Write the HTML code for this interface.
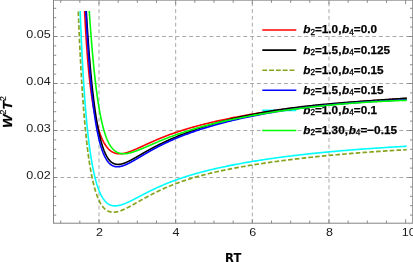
<!DOCTYPE html>
<html><head><meta charset="utf-8"><title>Plot</title>
<style>
html,body{margin:0;padding:0;background:#fff;}
svg{display:block;}
text{font-family:"Liberation Sans",sans-serif;}
.tk{font-size:11px;fill:#1a1a1a;}
.lg{font-size:11.75px;letter-spacing:0px;font-weight:bold;fill:#000;stroke:#000;stroke-width:0.25px;}
.bi{font-style:italic;}
.sub{font-size:8.2px;font-weight:normal;stroke:#000;stroke-width:0.32px;}
.xl{font-family:"DejaVu Sans","Liberation Sans",sans-serif;font-size:12.3px;font-weight:bold;fill:#000;}
.yl{font-size:13.2px;font-weight:bold;font-style:italic;fill:#000;stroke:#000;stroke-width:0.25px;}
.sup{font-size:8.2px;font-weight:normal;font-style:normal;stroke-width:0.1px;}
</style></head><body>
<svg width="413" height="262" viewBox="0 0 413 262">
<rect width="413" height="262" fill="#fff"/>
<g stroke="#999" stroke-width="0.85" stroke-dasharray="3.9,2.88" fill="none"><line x1="99.00" y1="223.20" x2="99.00" y2="0.15"/><line x1="175.66" y1="223.20" x2="175.66" y2="0.15"/><line x1="252.32" y1="223.20" x2="252.32" y2="0.15"/><line x1="328.98" y1="223.20" x2="328.98" y2="0.15"/><line x1="53.50" y1="177.50" x2="412.70" y2="177.50"/><line x1="53.50" y1="130.50" x2="412.70" y2="130.50"/><line x1="53.50" y1="83.50" x2="412.70" y2="83.50"/><line x1="53.50" y1="36.50" x2="412.70" y2="36.50"/></g>
<line x1="262.3" y1="30.00" x2="296.3" y2="30.00" stroke="#ff0000" stroke-width="1.6"/><text x="303.2" y="33.40" class="lg"><tspan class="bi">b</tspan><tspan class="sub" dy="1.2">2</tspan><tspan dy="-1.2">=1.0,</tspan><tspan class="bi" dx="0.7">b</tspan><tspan class="sub" dy="1.2">4</tspan><tspan dy="-1.2">=0.0</tspan></text><line x1="262.3" y1="50.10" x2="296.3" y2="50.10" stroke="#000000" stroke-width="1.6"/><text x="303.2" y="53.50" class="lg"><tspan class="bi">b</tspan><tspan class="sub" dy="1.2">2</tspan><tspan dy="-1.2">=1.5,</tspan><tspan class="bi" dx="0.7">b</tspan><tspan class="sub" dy="1.2">4</tspan><tspan dy="-1.2">=0.125</tspan></text><line x1="262.3" y1="70.20" x2="296.3" y2="70.20" stroke="#87a41d" stroke-width="1.6" stroke-dasharray="4.9,1.9"/><text x="303.2" y="73.60" class="lg"><tspan class="bi">b</tspan><tspan class="sub" dy="1.2">2</tspan><tspan dy="-1.2">=1.0,</tspan><tspan class="bi" dx="0.7">b</tspan><tspan class="sub" dy="1.2">4</tspan><tspan dy="-1.2">=0.15</tspan></text><line x1="262.3" y1="90.30" x2="296.3" y2="90.30" stroke="#0000ff" stroke-width="1.6"/><text x="303.2" y="93.70" class="lg"><tspan class="bi">b</tspan><tspan class="sub" dy="1.2">2</tspan><tspan dy="-1.2">=1.5,</tspan><tspan class="bi" dx="0.7">b</tspan><tspan class="sub" dy="1.2">4</tspan><tspan dy="-1.2">=0.15</tspan></text><line x1="262.3" y1="110.40" x2="296.3" y2="110.40" stroke="#00ffff" stroke-width="1.6"/><text x="303.2" y="113.80" class="lg"><tspan class="bi">b</tspan><tspan class="sub" dy="1.2">2</tspan><tspan dy="-1.2">=1.0,</tspan><tspan class="bi" dx="0.7">b</tspan><tspan class="sub" dy="1.2">4</tspan><tspan dy="-1.2">=0.1</tspan></text><line x1="262.3" y1="130.50" x2="296.3" y2="130.50" stroke="#00ff00" stroke-width="1.6"/><text x="303.2" y="133.90" class="lg"><tspan class="bi">b</tspan><tspan class="sub" dy="1.2">2</tspan><tspan dy="-1.2">=1.30,</tspan><tspan class="bi" dx="0.7">b</tspan><tspan class="sub" dy="1.2">4</tspan><tspan dy="-1.2">=−0.15</tspan></text>
<clipPath id="cp"><rect x="54" y="10.9" width="353.2" height="211"/></clipPath><g clip-path="url(#cp)">
<path d="M83.45,-15.89 L83.73,-8.83 L84.01,-2.14 L84.29,4.19 L84.58,10.19 L84.86,15.89 L85.14,21.30 L85.43,26.43 L85.71,31.32 L85.99,35.97 L86.27,40.40 L86.56,44.62 L86.84,48.64 L87.12,52.48 L87.40,56.15 L87.69,59.66 L87.97,63.02 L88.25,66.23 L88.53,69.31 L88.82,72.26 L89.10,75.09 L89.38,77.81 L89.66,80.42 L89.95,82.93 L90.23,85.34 L90.51,87.66 L90.80,89.90 L91.08,92.06 L91.36,94.14 L91.64,96.14 L91.93,98.08 L92.21,99.95 L92.49,101.75 L92.77,103.49 L93.06,105.18 L93.34,106.81 L93.62,108.39 L93.90,109.92 L94.19,111.40 L94.47,112.83 L94.75,114.22 L95.03,115.57 L95.32,116.87 L95.60,118.14 L95.88,119.36 L96.16,120.55 L96.45,121.71 L96.73,122.83 L97.01,123.92 L97.30,124.97 L97.58,126.00 L97.86,126.99 L98.14,127.96 L98.43,128.89 L98.71,129.80 L98.99,130.69 L99.27,131.55 L99.56,132.38 L99.84,133.19 L100.12,133.97 L100.40,134.74 L100.69,135.48 L100.97,136.20 L101.25,136.89 L101.53,137.57 L101.82,138.23 L102.10,138.86 L102.38,139.48 L102.67,140.08 L102.95,140.66 L103.23,141.23 L103.51,141.77 L103.80,142.30 L104.08,142.82 L104.36,143.31 L104.64,143.79 L104.93,144.26 L105.21,144.71 L105.49,145.15 L105.77,145.57 L106.06,145.97 L106.34,146.37 L106.62,146.75 L106.90,147.11 L107.19,147.47 L107.47,147.81 L107.75,148.14 L108.03,148.46 L108.32,148.76 L108.60,149.06 L108.88,149.34 L109.17,149.61 L109.45,149.87 L109.73,150.12 L110.01,150.36 L110.30,150.59 L110.58,150.81 L110.86,151.02 L111.14,151.22 L111.43,151.42 L111.71,151.60 L111.99,151.77 L112.27,151.94 L112.56,152.10 L112.84,152.25 L113.12,152.39 L113.40,152.52 L113.69,152.65 L113.97,152.76 L114.25,152.87 L114.54,152.98 L114.82,153.08 L115.10,153.17 L115.38,153.25 L115.67,153.33 L115.95,153.40 L116.23,153.46 L116.51,153.52 L116.80,153.57 L117.08,153.62 L117.36,153.66 L117.64,153.69 L117.93,153.72 L118.21,153.75 L118.49,153.77 L118.77,153.78 L119.06,153.79 L119.34,153.80 L119.62,153.80 L119.90,153.80 L120.19,153.79 L120.47,153.78 L120.75,153.76 L121.04,153.74 L121.32,153.72 L121.60,153.69 L121.88,153.66 L122.17,153.62 L122.45,153.59 L122.73,153.54 L123.01,153.50 L123.30,153.45 L123.58,153.40 L123.86,153.34 L124.14,153.29 L124.43,153.23 L124.71,153.16 L124.99,153.10 L125.27,153.03 L125.56,152.96 L125.84,152.88 L126.12,152.81 L126.40,152.73 L126.69,152.65 L126.97,152.57 L127.25,152.48 L127.54,152.39 L127.82,152.31 L128.10,152.21 L128.38,152.12 L128.67,152.03 L128.95,151.93 L129.23,151.83 L129.51,151.73 L129.80,151.63 L130.08,151.53 L130.36,151.43 L130.64,151.32 L130.93,151.22 L131.21,151.11 L131.49,151.00 L131.77,150.89 L132.06,150.78 L132.34,150.66 L132.62,150.55 L132.91,150.44 L133.19,150.32 L133.47,150.20 L133.75,150.09 L134.04,149.97 L134.32,149.85 L134.60,149.73 L134.88,149.61 L135.17,149.49 L135.45,149.36 L135.73,149.24 L136.01,149.12 L136.30,148.99 L136.58,148.87 L136.86,148.74 L137.14,148.62 L137.43,148.49 L137.71,148.36 L137.99,148.24 L138.27,148.11 L138.56,147.98 L138.84,147.85 L139.12,147.73 L139.41,147.60 L139.69,147.47 L139.97,147.34 L140.25,147.21 L140.54,147.08 L140.82,146.95 L141.10,146.82 L141.38,146.69 L141.67,146.56 L141.95,146.43 L142.23,146.30 L142.51,146.17 L142.80,146.04 L143.08,145.91 L143.36,145.78 L143.64,145.65 L143.93,145.52 L144.21,145.39 L144.49,145.26 L144.78,145.13 L145.06,144.99 L145.34,144.86 L145.62,144.73 L145.91,144.60 L146.19,144.47 L146.47,144.34 L146.75,144.21 L147.04,144.09 L147.32,143.96 L147.60,143.83 L147.88,143.70 L148.17,143.57 L148.45,143.44 L148.73,143.31 L149.01,143.18 L149.30,143.05 L149.58,142.93 L149.86,142.80 L150.14,142.67 L150.43,142.54 L150.71,142.42 L150.99,142.29 L151.28,142.16 L151.56,142.04 L151.84,141.91 L152.12,141.79 L152.41,141.66 L152.69,141.54 L152.97,141.41 L153.25,141.29 L153.54,141.16 L153.82,141.04 L154.10,140.92 L154.38,140.79 L154.67,140.67 L154.95,140.55 L155.23,140.42 L155.51,140.30 L155.80,140.18 L156.08,140.06 L156.36,139.94 L156.64,139.82 L157.90,139.29 L159.16,138.76 L160.41,138.24 L161.67,137.73 L162.93,137.23 L164.18,136.73 L165.44,136.24 L166.70,135.76 L167.95,135.29 L169.21,134.82 L170.47,134.36 L171.72,133.91 L172.98,133.46 L174.24,133.02 L175.49,132.58 L176.75,132.16 L178.01,131.73 L179.26,131.32 L180.52,130.91 L181.78,130.51 L183.03,130.11 L184.29,129.72 L185.55,129.33 L186.80,128.95 L188.06,128.57 L189.32,128.20 L190.57,127.83 L191.83,127.47 L193.09,127.12 L194.34,126.76 L195.60,126.42 L196.86,126.07 L198.11,125.73 L199.37,125.40 L200.63,125.07 L201.88,124.74 L203.14,124.42 L204.40,124.10 L205.65,123.78 L206.91,123.47 L208.17,123.16 L209.42,122.86 L210.68,122.56 L211.94,122.26 L213.19,121.97 L214.45,121.67 L215.71,121.39 L216.96,121.10 L218.22,120.82 L219.48,120.54 L220.73,120.26 L221.99,119.99 L223.24,119.72 L224.50,119.45 L225.76,119.19 L227.01,118.92 L228.27,118.66 L229.53,118.41 L230.78,118.15 L232.04,117.90 L233.30,117.65 L234.55,117.41 L235.81,117.16 L237.07,116.92 L238.32,116.68 L239.58,116.44 L240.84,116.21 L242.09,115.97 L243.35,115.74 L244.61,115.52 L245.86,115.29 L247.12,115.07 L248.38,114.85 L249.63,114.63 L250.89,114.41 L252.15,114.19 L253.40,113.98 L254.66,113.77 L255.92,113.56 L257.17,113.35 L258.43,113.15 L259.69,112.95 L260.94,112.75 L262.20,112.55 L263.46,112.35 L264.71,112.15 L265.97,111.96 L267.23,111.77 L268.48,111.58 L269.74,111.39 L271.00,111.21 L272.25,111.02 L273.51,110.84 L274.77,110.66 L276.02,110.48 L277.28,110.30 L278.54,110.13 L279.79,109.95 L281.05,109.78 L282.31,109.61 L283.56,109.44 L284.82,109.27 L286.08,109.11 L287.33,108.94 L288.59,108.78 L289.84,108.62 L291.10,108.46 L292.36,108.30 L293.61,108.15 L294.87,107.99 L296.13,107.84 L297.38,107.69 L298.64,107.54 L299.90,107.39 L301.15,107.24 L302.41,107.09 L303.67,106.95 L304.92,106.81 L306.18,106.67 L307.44,106.52 L308.69,106.39 L309.95,106.25 L311.21,106.11 L312.46,105.98 L313.72,105.84 L314.98,105.71 L316.23,105.58 L317.49,105.45 L318.75,105.32 L320.00,105.19 L321.26,105.06 L322.52,104.94 L323.77,104.81 L325.03,104.69 L326.29,104.57 L327.54,104.45 L328.80,104.33 L330.06,104.21 L331.31,104.09 L332.57,103.98 L333.83,103.86 L335.08,103.75 L336.34,103.63 L337.60,103.52 L338.85,103.41 L340.11,103.30 L341.37,103.19 L342.62,103.08 L343.88,102.98 L345.14,102.87 L346.39,102.76 L347.65,102.66 L348.91,102.56 L350.16,102.45 L351.42,102.35 L352.68,102.25 L353.93,102.15 L355.19,102.05 L356.44,101.95 L357.70,101.86 L358.96,101.76 L360.21,101.66 L361.47,101.57 L362.73,101.48 L363.98,101.38 L365.24,101.29 L366.50,101.20 L367.75,101.11 L369.01,101.02 L370.27,100.93 L371.52,100.84 L372.78,100.75 L374.04,100.66 L375.29,100.57 L376.55,100.49 L377.81,100.40 L379.06,100.32 L380.32,100.23 L381.58,100.15 L382.83,100.06 L384.09,99.98 L385.35,99.90 L386.60,99.82 L387.86,99.74 L389.12,99.66 L390.37,99.58 L391.63,99.50 L392.89,99.42 L394.14,99.34 L395.40,99.26 L396.66,99.19 L397.91,99.11 L399.17,99.03 L400.43,98.96 L401.68,98.88 L402.94,98.81 L404.20,98.73 L405.45,98.66 L406.71,98.59" fill="none" stroke="#ff0000" stroke-width="1.60" stroke-linejoin="round"/>
<path d="M85.15,-9.41 L85.42,-4.16 L85.70,0.93 L85.98,5.87 L86.25,10.66 L86.53,15.32 L86.80,19.84 L87.08,24.23 L87.36,28.49 L87.63,32.64 L87.91,36.66 L88.18,40.58 L88.46,44.39 L88.74,48.09 L89.01,51.69 L89.29,55.19 L89.56,58.60 L89.84,61.91 L90.12,65.14 L90.39,68.28 L90.67,71.33 L90.94,74.30 L91.22,77.19 L91.50,80.00 L91.77,82.73 L92.05,85.40 L92.32,87.99 L92.60,90.51 L92.88,92.96 L93.15,95.34 L93.43,97.66 L93.70,99.92 L93.98,102.11 L94.26,104.25 L94.53,106.33 L94.81,108.34 L95.09,110.31 L95.36,112.22 L95.64,114.07 L95.91,115.87 L96.19,117.63 L96.47,119.33 L96.74,120.98 L97.02,122.59 L97.29,124.15 L97.57,125.67 L97.85,127.14 L98.12,128.57 L98.40,129.96 L98.67,131.30 L98.95,132.61 L99.23,133.88 L99.50,135.11 L99.78,136.30 L100.05,137.45 L100.33,138.57 L100.61,139.66 L100.88,140.71 L101.16,141.73 L101.43,142.71 L101.71,143.67 L101.99,144.59 L102.26,145.48 L102.54,146.35 L102.81,147.18 L103.09,147.99 L103.37,148.77 L103.64,149.52 L103.92,150.25 L104.19,150.95 L104.47,151.63 L104.75,152.28 L105.02,152.91 L105.30,153.52 L105.58,154.10 L105.85,154.66 L106.13,155.20 L106.40,155.72 L106.68,156.23 L106.96,156.71 L107.23,157.17 L107.51,157.61 L107.78,158.03 L108.06,158.44 L108.34,158.83 L108.61,159.20 L108.89,159.56 L109.16,159.90 L109.44,160.22 L109.72,160.53 L109.99,160.82 L110.27,161.10 L110.54,161.37 L110.82,161.62 L111.10,161.86 L111.37,162.09 L111.65,162.30 L111.92,162.50 L112.20,162.69 L112.48,162.87 L112.75,163.04 L113.03,163.19 L113.30,163.34 L113.58,163.47 L113.86,163.59 L114.13,163.71 L114.41,163.81 L114.68,163.91 L114.96,164.00 L115.24,164.08 L115.51,164.15 L115.79,164.21 L116.07,164.26 L116.34,164.31 L116.62,164.35 L116.89,164.38 L117.17,164.40 L117.45,164.42 L117.72,164.43 L118.00,164.43 L118.27,164.43 L118.55,164.42 L118.83,164.41 L119.10,164.39 L119.38,164.36 L119.65,164.33 L119.93,164.30 L120.21,164.25 L120.48,164.21 L120.76,164.16 L121.03,164.10 L121.31,164.04 L121.59,163.98 L121.86,163.91 L122.14,163.84 L122.41,163.76 L122.69,163.68 L122.97,163.60 L123.24,163.52 L123.52,163.43 L123.79,163.33 L124.07,163.24 L124.35,163.14 L124.62,163.03 L124.90,162.93 L125.17,162.82 L125.45,162.71 L125.73,162.60 L126.00,162.48 L126.28,162.37 L126.56,162.25 L126.83,162.13 L127.11,162.00 L127.38,161.88 L127.66,161.75 L127.94,161.62 L128.21,161.49 L128.49,161.35 L128.76,161.22 L129.04,161.08 L129.32,160.95 L129.59,160.81 L129.87,160.67 L130.14,160.52 L130.42,160.38 L130.70,160.24 L130.97,160.09 L131.25,159.95 L131.52,159.80 L131.80,159.65 L132.08,159.50 L132.35,159.35 L132.63,159.20 L132.90,159.05 L133.18,158.90 L133.46,158.74 L133.73,158.59 L134.01,158.44 L134.28,158.28 L134.56,158.13 L134.84,157.97 L135.11,157.81 L135.39,157.66 L135.66,157.50 L135.94,157.34 L136.22,157.19 L136.49,157.03 L136.77,156.87 L137.05,156.71 L137.32,156.55 L137.60,156.39 L137.87,156.23 L138.15,156.08 L138.43,155.92 L138.70,155.76 L138.98,155.60 L139.25,155.44 L139.53,155.28 L139.81,155.12 L140.08,154.96 L140.36,154.80 L140.63,154.64 L140.91,154.48 L141.19,154.32 L141.46,154.16 L141.74,154.00 L142.01,153.85 L142.29,153.69 L142.57,153.53 L142.84,153.37 L143.12,153.21 L143.39,153.05 L143.67,152.90 L143.95,152.74 L144.22,152.58 L144.50,152.42 L144.77,152.27 L145.05,152.11 L145.33,151.95 L145.60,151.80 L145.88,151.64 L146.15,151.49 L146.43,151.33 L146.71,151.18 L146.98,151.02 L147.26,150.87 L147.54,150.71 L147.81,150.56 L148.09,150.41 L148.36,150.25 L148.64,150.10 L148.92,149.95 L149.19,149.80 L149.47,149.65 L149.74,149.50 L150.02,149.34 L150.30,149.19 L150.57,149.04 L150.85,148.90 L151.12,148.75 L151.40,148.60 L151.68,148.45 L151.95,148.30 L152.23,148.15 L152.50,148.01 L152.78,147.86 L153.06,147.71 L153.33,147.57 L153.61,147.42 L153.88,147.28 L154.16,147.13 L154.44,146.99 L154.71,146.84 L154.99,146.70 L155.26,146.56 L155.54,146.41 L155.82,146.27 L156.09,146.13 L156.37,145.99 L156.64,145.85 L157.90,145.21 L159.16,144.58 L160.41,143.96 L161.67,143.35 L162.93,142.75 L164.18,142.15 L165.44,141.57 L166.70,140.99 L167.95,140.42 L169.21,139.85 L170.47,139.30 L171.72,138.75 L172.98,138.21 L174.24,137.67 L175.49,137.15 L176.75,136.63 L178.01,136.11 L179.26,135.60 L180.52,135.10 L181.78,134.61 L183.03,134.12 L184.29,133.63 L185.55,133.16 L186.80,132.68 L188.06,132.22 L189.32,131.76 L190.57,131.30 L191.83,130.85 L193.09,130.41 L194.34,129.97 L195.60,129.53 L196.86,129.10 L198.11,128.68 L199.37,128.26 L200.63,127.84 L201.88,127.43 L203.14,127.03 L204.40,126.63 L205.65,126.23 L206.91,125.84 L208.17,125.45 L209.42,125.07 L210.68,124.69 L211.94,124.32 L213.19,123.95 L214.45,123.58 L215.71,123.22 L216.96,122.86 L218.22,122.51 L219.48,122.16 L220.73,121.82 L221.99,121.47 L223.24,121.14 L224.50,120.81 L225.76,120.48 L227.01,120.15 L228.27,119.83 L229.53,119.51 L230.78,119.20 L232.04,118.89 L233.30,118.58 L234.55,118.28 L235.81,117.98 L237.07,117.69 L238.32,117.40 L239.58,117.11 L240.84,116.83 L242.09,116.55 L243.35,116.27 L244.61,116.00 L245.86,115.73 L247.12,115.46 L248.38,115.20 L249.63,114.94 L250.89,114.68 L252.15,114.43 L253.40,114.18 L254.66,113.94 L255.92,113.69 L257.17,113.45 L258.43,113.22 L259.69,112.98 L260.94,112.75 L262.20,112.53 L263.46,112.30 L264.71,112.08 L265.97,111.86 L267.23,111.65 L268.48,111.43 L269.74,111.22 L271.00,111.02 L272.25,110.81 L273.51,110.61 L274.77,110.41 L276.02,110.22 L277.28,110.02 L278.54,109.83 L279.79,109.65 L281.05,109.46 L282.31,109.28 L283.56,109.10 L284.82,108.92 L286.08,108.74 L287.33,108.57 L288.59,108.40 L289.84,108.23 L291.10,108.06 L292.36,107.90 L293.61,107.74 L294.87,107.58 L296.13,107.42 L297.38,107.26 L298.64,107.11 L299.90,106.96 L301.15,106.81 L302.41,106.66 L303.67,106.52 L304.92,106.37 L306.18,106.23 L307.44,106.09 L308.69,105.95 L309.95,105.81 L311.21,105.68 L312.46,105.54 L313.72,105.41 L314.98,105.28 L316.23,105.15 L317.49,105.03 L318.75,104.90 L320.00,104.78 L321.26,104.65 L322.52,104.53 L323.77,104.41 L325.03,104.30 L326.29,104.18 L327.54,104.06 L328.80,103.95 L330.06,103.83 L331.31,103.72 L332.57,103.61 L333.83,103.50 L335.08,103.39 L336.34,103.28 L337.60,103.18 L338.85,103.07 L340.11,102.97 L341.37,102.86 L342.62,102.76 L343.88,102.66 L345.14,102.56 L346.39,102.46 L347.65,102.36 L348.91,102.26 L350.16,102.16 L351.42,102.06 L352.68,101.97 L353.93,101.87 L355.19,101.78 L356.44,101.68 L357.70,101.59 L358.96,101.49 L360.21,101.40 L361.47,101.31 L362.73,101.22 L363.98,101.13 L365.24,101.04 L366.50,100.95 L367.75,100.86 L369.01,100.77 L370.27,100.68 L371.52,100.59 L372.78,100.50 L374.04,100.41 L375.29,100.32 L376.55,100.24 L377.81,100.15 L379.06,100.06 L380.32,99.97 L381.58,99.89 L382.83,99.80 L384.09,99.71 L385.35,99.63 L386.60,99.54 L387.86,99.45 L389.12,99.37 L390.37,99.28 L391.63,99.20 L392.89,99.11 L394.14,99.02 L395.40,98.94 L396.66,98.85 L397.91,98.76 L399.17,98.68 L400.43,98.59 L401.68,98.50 L402.94,98.42 L404.20,98.33 L405.45,98.24 L406.71,98.16" fill="none" stroke="#000000" stroke-width="1.60" stroke-linejoin="round"/>
<path d="M77.05,-23.95 L77.35,-14.62 L77.66,-5.71 L77.97,2.80 L78.28,10.94 L78.58,18.73 L78.89,26.18 L79.20,33.31 L79.51,40.15 L79.81,46.70 L80.12,52.98 L80.43,59.00 L80.74,64.78 L81.04,70.33 L81.35,75.66 L81.66,80.78 L81.96,85.70 L82.27,90.43 L82.58,94.98 L82.89,99.35 L83.19,103.56 L83.50,107.62 L83.81,111.52 L84.12,115.28 L84.42,118.90 L84.73,122.39 L85.04,125.76 L85.34,129.00 L85.65,132.13 L85.96,135.15 L86.27,138.05 L86.57,140.86 L86.88,143.57 L87.19,146.18 L87.50,148.71 L87.80,151.14 L88.11,153.50 L88.42,155.77 L88.73,157.96 L89.03,160.08 L89.34,162.12 L89.65,164.10 L89.95,166.00 L90.26,167.85 L90.57,169.62 L90.88,171.34 L91.18,173.00 L91.49,174.61 L91.80,176.16 L92.11,177.65 L92.41,179.10 L92.72,180.49 L93.03,181.84 L93.34,183.14 L93.64,184.40 L93.95,185.61 L94.26,186.78 L94.56,187.91 L94.87,189.01 L95.18,190.06 L95.49,191.07 L95.79,192.05 L96.10,193.00 L96.41,193.91 L96.72,194.79 L97.02,195.64 L97.33,196.45 L97.64,197.24 L97.95,197.99 L98.25,198.72 L98.56,199.42 L98.87,200.10 L99.17,200.75 L99.48,201.37 L99.79,201.97 L100.10,202.55 L100.40,203.10 L100.71,203.63 L101.02,204.14 L101.33,204.63 L101.63,205.09 L101.94,205.54 L102.25,205.97 L102.56,206.38 L102.86,206.77 L103.17,207.15 L103.48,207.50 L103.78,207.84 L104.09,208.17 L104.40,208.48 L104.71,208.77 L105.01,209.05 L105.32,209.31 L105.63,209.56 L105.94,209.80 L106.24,210.02 L106.55,210.23 L106.86,210.42 L107.17,210.61 L107.47,210.78 L107.78,210.94 L108.09,211.09 L108.39,211.23 L108.70,211.36 L109.01,211.48 L109.32,211.59 L109.62,211.69 L109.93,211.78 L110.24,211.86 L110.55,211.93 L110.85,212.00 L111.16,212.05 L111.47,212.10 L111.78,212.14 L112.08,212.17 L112.39,212.19 L112.70,212.21 L113.00,212.22 L113.31,212.22 L113.62,212.22 L113.93,212.21 L114.23,212.19 L114.54,212.17 L114.85,212.14 L115.16,212.11 L115.46,212.07 L115.77,212.02 L116.08,211.98 L116.39,211.92 L116.69,211.86 L117.00,211.80 L117.31,211.73 L117.61,211.66 L117.92,211.58 L118.23,211.50 L118.54,211.41 L118.84,211.32 L119.15,211.23 L119.46,211.13 L119.77,211.03 L120.07,210.93 L120.38,210.82 L120.69,210.71 L120.99,210.60 L121.30,210.49 L121.61,210.37 L121.92,210.25 L122.22,210.12 L122.53,210.00 L122.84,209.87 L123.15,209.74 L123.45,209.60 L123.76,209.47 L124.07,209.33 L124.38,209.19 L124.68,209.05 L124.99,208.90 L125.30,208.76 L125.60,208.61 L125.91,208.46 L126.22,208.31 L126.53,208.16 L126.83,208.01 L127.14,207.85 L127.45,207.70 L127.76,207.54 L128.06,207.38 L128.37,207.22 L128.68,207.06 L128.99,206.90 L129.29,206.74 L129.60,206.57 L129.91,206.41 L130.21,206.24 L130.52,206.08 L130.83,205.91 L131.14,205.74 L131.44,205.57 L131.75,205.40 L132.06,205.23 L132.37,205.06 L132.67,204.89 L132.98,204.72 L133.29,204.55 L133.60,204.38 L133.90,204.21 L134.21,204.03 L134.52,203.86 L134.82,203.69 L135.13,203.51 L135.44,203.34 L135.75,203.17 L136.05,202.99 L136.36,202.82 L136.67,202.64 L136.98,202.47 L137.28,202.30 L137.59,202.12 L137.90,201.95 L138.21,201.77 L138.51,201.60 L138.82,201.42 L139.13,201.25 L139.43,201.08 L139.74,200.90 L140.05,200.73 L140.36,200.55 L140.66,200.38 L140.97,200.21 L141.28,200.03 L141.59,199.86 L141.89,199.69 L142.20,199.52 L142.51,199.35 L142.82,199.17 L143.12,199.00 L143.43,198.83 L143.74,198.66 L144.04,198.49 L144.35,198.32 L144.66,198.15 L144.97,197.98 L145.27,197.81 L145.58,197.64 L145.89,197.47 L146.20,197.31 L146.50,197.14 L146.81,196.97 L147.12,196.81 L147.43,196.64 L147.73,196.47 L148.04,196.31 L148.35,196.14 L148.65,195.98 L148.96,195.82 L149.27,195.65 L149.58,195.49 L149.88,195.33 L150.19,195.17 L150.50,195.01 L150.81,194.84 L151.11,194.68 L151.42,194.52 L151.73,194.37 L152.04,194.21 L152.34,194.05 L152.65,193.89 L152.96,193.73 L153.26,193.58 L153.57,193.42 L153.88,193.27 L154.19,193.11 L154.49,192.96 L154.80,192.80 L155.11,192.65 L155.42,192.50 L155.72,192.35 L156.03,192.20 L156.34,192.04 L156.64,191.89 L157.90,191.29 L159.16,190.69 L160.41,190.10 L161.67,189.52 L162.93,188.95 L164.18,188.39 L165.44,187.84 L166.70,187.30 L167.95,186.76 L169.21,186.24 L170.47,185.73 L171.72,185.22 L172.98,184.73 L174.24,184.24 L175.49,183.76 L176.75,183.29 L178.01,182.83 L179.26,182.38 L180.52,181.93 L181.78,181.49 L183.03,181.06 L184.29,180.64 L185.55,180.22 L186.80,179.81 L188.06,179.41 L189.32,179.02 L190.57,178.63 L191.83,178.24 L193.09,177.87 L194.34,177.50 L195.60,177.13 L196.86,176.77 L198.11,176.42 L199.37,176.07 L200.63,175.73 L201.88,175.40 L203.14,175.06 L204.40,174.74 L205.65,174.42 L206.91,174.10 L208.17,173.79 L209.42,173.48 L210.68,173.18 L211.94,172.88 L213.19,172.58 L214.45,172.29 L215.71,172.00 L216.96,171.72 L218.22,171.44 L219.48,171.17 L220.73,170.89 L221.99,170.62 L223.24,170.36 L224.50,170.10 L225.76,169.84 L227.01,169.58 L228.27,169.33 L229.53,169.08 L230.78,168.84 L232.04,168.59 L233.30,168.35 L234.55,168.11 L235.81,167.88 L237.07,167.65 L238.32,167.42 L239.58,167.19 L240.84,166.96 L242.09,166.74 L243.35,166.52 L244.61,166.30 L245.86,166.09 L247.12,165.88 L248.38,165.66 L249.63,165.46 L250.89,165.25 L252.15,165.04 L253.40,164.84 L254.66,164.64 L255.92,164.44 L257.17,164.25 L258.43,164.05 L259.69,163.86 L260.94,163.67 L262.20,163.48 L263.46,163.29 L264.71,163.10 L265.97,162.92 L267.23,162.74 L268.48,162.56 L269.74,162.38 L271.00,162.20 L272.25,162.02 L273.51,161.85 L274.77,161.68 L276.02,161.51 L277.28,161.34 L278.54,161.17 L279.79,161.00 L281.05,160.83 L282.31,160.67 L283.56,160.51 L284.82,160.35 L286.08,160.19 L287.33,160.03 L288.59,159.87 L289.84,159.71 L291.10,159.56 L292.36,159.41 L293.61,159.25 L294.87,159.10 L296.13,158.95 L297.38,158.80 L298.64,158.66 L299.90,158.51 L301.15,158.37 L302.41,158.22 L303.67,158.08 L304.92,157.94 L306.18,157.80 L307.44,157.66 L308.69,157.52 L309.95,157.39 L311.21,157.25 L312.46,157.11 L313.72,156.98 L314.98,156.85 L316.23,156.72 L317.49,156.59 L318.75,156.46 L320.00,156.33 L321.26,156.20 L322.52,156.08 L323.77,155.95 L325.03,155.83 L326.29,155.70 L327.54,155.58 L328.80,155.46 L330.06,155.34 L331.31,155.22 L332.57,155.10 L333.83,154.99 L335.08,154.87 L336.34,154.76 L337.60,154.64 L338.85,154.53 L340.11,154.42 L341.37,154.31 L342.62,154.20 L343.88,154.09 L345.14,153.98 L346.39,153.87 L347.65,153.76 L348.91,153.66 L350.16,153.55 L351.42,153.45 L352.68,153.34 L353.93,153.24 L355.19,153.14 L356.44,153.04 L357.70,152.94 L358.96,152.84 L360.21,152.74 L361.47,152.65 L362.73,152.55 L363.98,152.46 L365.24,152.36 L366.50,152.27 L367.75,152.18 L369.01,152.08 L370.27,151.99 L371.52,151.90 L372.78,151.81 L374.04,151.73 L375.29,151.64 L376.55,151.55 L377.81,151.46 L379.06,151.38 L380.32,151.30 L381.58,151.21 L382.83,151.13 L384.09,151.05 L385.35,150.97 L386.60,150.89 L387.86,150.81 L389.12,150.73 L390.37,150.65 L391.63,150.57 L392.89,150.50 L394.14,150.42 L395.40,150.34 L396.66,150.27 L397.91,150.20 L399.17,150.12 L400.43,150.05 L401.68,149.98 L402.94,149.91 L404.20,149.84 L405.45,149.77 L406.71,149.70" fill="none" stroke="#87a41d" stroke-width="1.70" stroke-linejoin="round" stroke-dasharray="4.60,2.20" stroke-dashoffset="5.28"/>
<path d="M84.65,-15.79 L84.93,-9.37 L85.20,-3.20 L85.48,2.73 L85.76,8.44 L86.04,13.93 L86.32,19.22 L86.59,24.31 L86.87,29.22 L87.15,33.95 L87.43,38.52 L87.70,42.92 L87.98,47.16 L88.26,51.26 L88.54,55.22 L88.82,59.04 L89.09,62.74 L89.37,66.31 L89.65,69.76 L89.93,73.09 L90.21,76.32 L90.48,79.44 L90.76,82.46 L91.04,85.38 L91.32,88.21 L91.60,90.95 L91.87,93.60 L92.15,96.16 L92.43,98.65 L92.71,101.06 L92.99,103.39 L93.26,105.65 L93.54,107.83 L93.82,109.95 L94.10,112.01 L94.38,114.00 L94.65,115.92 L94.93,117.79 L95.21,119.60 L95.49,121.36 L95.77,123.06 L96.04,124.70 L96.32,126.30 L96.60,127.85 L96.88,129.34 L97.16,130.80 L97.43,132.20 L97.71,133.56 L97.99,134.88 L98.27,136.16 L98.55,137.40 L98.82,138.60 L99.10,139.76 L99.38,140.88 L99.66,141.97 L99.94,143.02 L100.21,144.04 L100.49,145.02 L100.77,145.97 L101.05,146.89 L101.33,147.78 L101.60,148.64 L101.88,149.47 L102.16,150.28 L102.44,151.05 L102.72,151.80 L102.99,152.53 L103.27,153.22 L103.55,153.90 L103.83,154.55 L104.11,155.17 L104.38,155.78 L104.66,156.36 L104.94,156.92 L105.22,157.45 L105.50,157.97 L105.77,158.47 L106.05,158.95 L106.33,159.41 L106.61,159.85 L106.89,160.27 L107.16,160.68 L107.44,161.07 L107.72,161.44 L108.00,161.80 L108.28,162.14 L108.55,162.46 L108.83,162.77 L109.11,163.07 L109.39,163.35 L109.67,163.62 L109.94,163.87 L110.22,164.11 L110.50,164.34 L110.78,164.56 L111.06,164.76 L111.33,164.95 L111.61,165.13 L111.89,165.30 L112.17,165.46 L112.45,165.61 L112.72,165.75 L113.00,165.88 L113.28,166.00 L113.56,166.11 L113.84,166.21 L114.11,166.30 L114.39,166.38 L114.67,166.46 L114.95,166.53 L115.23,166.58 L115.50,166.64 L115.78,166.68 L116.06,166.71 L116.34,166.74 L116.62,166.77 L116.89,166.78 L117.17,166.79 L117.45,166.79 L117.73,166.79 L118.01,166.78 L118.28,166.76 L118.56,166.74 L118.84,166.72 L119.12,166.69 L119.40,166.65 L119.67,166.61 L119.95,166.56 L120.23,166.51 L120.51,166.45 L120.79,166.39 L121.06,166.33 L121.34,166.26 L121.62,166.19 L121.90,166.11 L122.17,166.03 L122.45,165.95 L122.73,165.86 L123.01,165.77 L123.29,165.68 L123.56,165.58 L123.84,165.48 L124.12,165.38 L124.40,165.27 L124.68,165.16 L124.95,165.05 L125.23,164.94 L125.51,164.82 L125.79,164.70 L126.07,164.58 L126.34,164.46 L126.62,164.33 L126.90,164.21 L127.18,164.08 L127.46,163.95 L127.73,163.81 L128.01,163.68 L128.29,163.54 L128.57,163.40 L128.85,163.26 L129.12,163.12 L129.40,162.98 L129.68,162.84 L129.96,162.69 L130.24,162.54 L130.51,162.39 L130.79,162.25 L131.07,162.10 L131.35,161.94 L131.63,161.79 L131.90,161.64 L132.18,161.48 L132.46,161.33 L132.74,161.17 L133.02,161.02 L133.29,160.86 L133.57,160.70 L133.85,160.54 L134.13,160.38 L134.41,160.22 L134.68,160.06 L134.96,159.90 L135.24,159.74 L135.52,159.58 L135.80,159.42 L136.07,159.25 L136.35,159.09 L136.63,158.93 L136.91,158.76 L137.19,158.60 L137.46,158.44 L137.74,158.27 L138.02,158.11 L138.30,157.94 L138.58,157.78 L138.85,157.61 L139.13,157.45 L139.41,157.28 L139.69,157.12 L139.97,156.95 L140.24,156.79 L140.52,156.62 L140.80,156.46 L141.08,156.29 L141.36,156.13 L141.63,155.96 L141.91,155.80 L142.19,155.63 L142.47,155.47 L142.75,155.30 L143.02,155.14 L143.30,154.98 L143.58,154.81 L143.86,154.65 L144.14,154.49 L144.41,154.32 L144.69,154.16 L144.97,154.00 L145.25,153.83 L145.53,153.67 L145.80,153.51 L146.08,153.35 L146.36,153.19 L146.64,153.03 L146.92,152.87 L147.19,152.71 L147.47,152.55 L147.75,152.39 L148.03,152.23 L148.31,152.07 L148.58,151.91 L148.86,151.75 L149.14,151.59 L149.42,151.44 L149.70,151.28 L149.97,151.12 L150.25,150.97 L150.53,150.81 L150.81,150.65 L151.09,150.50 L151.36,150.35 L151.64,150.19 L151.92,150.04 L152.20,149.88 L152.48,149.73 L152.75,149.58 L153.03,149.43 L153.31,149.27 L153.59,149.12 L153.87,148.97 L154.14,148.82 L154.42,148.67 L154.70,148.52 L154.98,148.37 L155.26,148.23 L155.53,148.08 L155.81,147.93 L156.09,147.78 L156.37,147.64 L156.64,147.49 L157.90,146.83 L159.16,146.19 L160.41,145.55 L161.67,144.92 L162.93,144.30 L164.18,143.69 L165.44,143.09 L166.70,142.50 L167.95,141.92 L169.21,141.35 L170.47,140.78 L171.72,140.22 L172.98,139.68 L174.24,139.13 L175.49,138.60 L176.75,138.08 L178.01,137.56 L179.26,137.05 L180.52,136.55 L181.78,136.05 L183.03,135.56 L184.29,135.08 L185.55,134.60 L186.80,134.14 L188.06,133.67 L189.32,133.22 L190.57,132.76 L191.83,132.32 L193.09,131.88 L194.34,131.45 L195.60,131.02 L196.86,130.60 L198.11,130.18 L199.37,129.77 L200.63,129.36 L201.88,128.96 L203.14,128.56 L204.40,128.17 L205.65,127.78 L206.91,127.39 L208.17,127.02 L209.42,126.64 L210.68,126.27 L211.94,125.90 L213.19,125.54 L214.45,125.18 L215.71,124.83 L216.96,124.48 L218.22,124.14 L219.48,123.79 L220.73,123.46 L221.99,123.12 L223.24,122.79 L224.50,122.46 L225.76,122.14 L227.01,121.82 L228.27,121.51 L229.53,121.19 L230.78,120.88 L232.04,120.58 L233.30,120.28 L234.55,119.98 L235.81,119.68 L237.07,119.39 L238.32,119.10 L239.58,118.81 L240.84,118.53 L242.09,118.25 L243.35,117.97 L244.61,117.70 L245.86,117.43 L247.12,117.16 L248.38,116.90 L249.63,116.64 L250.89,116.38 L252.15,116.12 L253.40,115.87 L254.66,115.62 L255.92,115.37 L257.17,115.13 L258.43,114.88 L259.69,114.64 L260.94,114.41 L262.20,114.17 L263.46,113.94 L264.71,113.71 L265.97,113.49 L267.23,113.26 L268.48,113.04 L269.74,112.83 L271.00,112.61 L272.25,112.40 L273.51,112.18 L274.77,111.98 L276.02,111.77 L277.28,111.57 L278.54,111.37 L279.79,111.17 L281.05,110.97 L282.31,110.78 L283.56,110.58 L284.82,110.39 L286.08,110.21 L287.33,110.02 L288.59,109.84 L289.84,109.66 L291.10,109.48 L292.36,109.30 L293.61,109.13 L294.87,108.95 L296.13,108.78 L297.38,108.62 L298.64,108.45 L299.90,108.28 L301.15,108.12 L302.41,107.96 L303.67,107.80 L304.92,107.65 L306.18,107.49 L307.44,107.34 L308.69,107.19 L309.95,107.04 L311.21,106.89 L312.46,106.75 L313.72,106.61 L314.98,106.46 L316.23,106.32 L317.49,106.19 L318.75,106.05 L320.00,105.91 L321.26,105.78 L322.52,105.65 L323.77,105.52 L325.03,105.39 L326.29,105.27 L327.54,105.14 L328.80,105.02 L330.06,104.90 L331.31,104.78 L332.57,104.66 L333.83,104.54 L335.08,104.42 L336.34,104.31 L337.60,104.20 L338.85,104.09 L340.11,103.98 L341.37,103.87 L342.62,103.76 L343.88,103.66 L345.14,103.55 L346.39,103.45 L347.65,103.35 L348.91,103.25 L350.16,103.15 L351.42,103.05 L352.68,102.95 L353.93,102.86 L355.19,102.76 L356.44,102.67 L357.70,102.58 L358.96,102.49 L360.21,102.40 L361.47,102.31 L362.73,102.23 L363.98,102.14 L365.24,102.06 L366.50,101.97 L367.75,101.89 L369.01,101.81 L370.27,101.73 L371.52,101.65 L372.78,101.57 L374.04,101.49 L375.29,101.42 L376.55,101.34 L377.81,101.27 L379.06,101.19 L380.32,101.12 L381.58,101.05 L382.83,100.98 L384.09,100.91 L385.35,100.84 L386.60,100.77 L387.86,100.71 L389.12,100.64 L390.37,100.58 L391.63,100.51 L392.89,100.45 L394.14,100.39 L395.40,100.32 L396.66,100.26 L397.91,100.20 L399.17,100.14 L400.43,100.08 L401.68,100.03 L402.94,99.97 L404.20,99.91 L405.45,99.86 L406.71,99.80" fill="none" stroke="#0000ff" stroke-width="1.60" stroke-linejoin="round"/>
<path d="M78.75,-30.76 L79.05,-20.93 L79.35,-11.60 L79.65,-2.72 L79.95,5.72 L80.25,13.76 L80.55,21.41 L80.85,28.71 L81.15,35.67 L81.45,42.31 L81.75,48.66 L82.06,54.72 L82.36,60.52 L82.66,66.07 L82.96,71.38 L83.26,76.47 L83.56,81.34 L83.86,86.02 L84.16,90.50 L84.46,94.81 L84.76,98.95 L85.06,102.92 L85.36,106.74 L85.66,110.41 L85.97,113.95 L86.27,117.35 L86.57,120.62 L86.87,123.77 L87.17,126.81 L87.47,129.74 L87.77,132.56 L88.07,135.28 L88.37,137.91 L88.67,140.44 L88.97,142.88 L89.27,145.24 L89.57,147.52 L89.88,149.72 L90.18,151.84 L90.48,153.89 L90.78,155.88 L91.08,157.79 L91.38,159.64 L91.68,161.43 L91.98,163.16 L92.28,164.83 L92.58,166.44 L92.88,168.00 L93.18,169.51 L93.48,170.97 L93.79,172.38 L94.09,173.74 L94.39,175.06 L94.69,176.33 L94.99,177.56 L95.29,178.75 L95.59,179.90 L95.89,181.01 L96.19,182.08 L96.49,183.12 L96.79,184.12 L97.09,185.09 L97.39,186.02 L97.70,186.93 L98.00,187.80 L98.30,188.64 L98.60,189.45 L98.90,190.23 L99.20,190.99 L99.50,191.71 L99.80,192.41 L100.10,193.09 L100.40,193.74 L100.70,194.37 L101.00,194.97 L101.30,195.55 L101.61,196.11 L101.91,196.65 L102.21,197.17 L102.51,197.66 L102.81,198.14 L103.11,198.60 L103.41,199.03 L103.71,199.46 L104.01,199.86 L104.31,200.24 L104.61,200.61 L104.91,200.97 L105.21,201.30 L105.52,201.62 L105.82,201.93 L106.12,202.22 L106.42,202.50 L106.72,202.77 L107.02,203.02 L107.32,203.26 L107.62,203.48 L107.92,203.69 L108.22,203.89 L108.52,204.08 L108.82,204.26 L109.12,204.43 L109.43,204.59 L109.73,204.73 L110.03,204.87 L110.33,205.00 L110.63,205.11 L110.93,205.22 L111.23,205.32 L111.53,205.41 L111.83,205.49 L112.13,205.56 L112.43,205.63 L112.73,205.68 L113.03,205.73 L113.33,205.78 L113.64,205.81 L113.94,205.84 L114.24,205.86 L114.54,205.88 L114.84,205.89 L115.14,205.89 L115.44,205.89 L115.74,205.88 L116.04,205.86 L116.34,205.84 L116.64,205.82 L116.94,205.78 L117.24,205.75 L117.55,205.71 L117.85,205.66 L118.15,205.61 L118.45,205.56 L118.75,205.50 L119.05,205.44 L119.35,205.37 L119.65,205.30 L119.95,205.23 L120.25,205.15 L120.55,205.07 L120.85,204.99 L121.15,204.90 L121.46,204.81 L121.76,204.71 L122.06,204.62 L122.36,204.52 L122.66,204.42 L122.96,204.31 L123.26,204.20 L123.56,204.09 L123.86,203.98 L124.16,203.87 L124.46,203.75 L124.76,203.63 L125.06,203.51 L125.37,203.39 L125.67,203.26 L125.97,203.13 L126.27,203.01 L126.57,202.88 L126.87,202.74 L127.17,202.61 L127.47,202.48 L127.77,202.34 L128.07,202.20 L128.37,202.06 L128.67,201.92 L128.97,201.78 L129.28,201.64 L129.58,201.50 L129.88,201.35 L130.18,201.21 L130.48,201.06 L130.78,200.91 L131.08,200.77 L131.38,200.62 L131.68,200.47 L131.98,200.32 L132.28,200.16 L132.58,200.01 L132.88,199.86 L133.19,199.71 L133.49,199.55 L133.79,199.40 L134.09,199.25 L134.39,199.09 L134.69,198.94 L134.99,198.78 L135.29,198.63 L135.59,198.47 L135.89,198.31 L136.19,198.16 L136.49,198.00 L136.79,197.84 L137.10,197.69 L137.40,197.53 L137.70,197.37 L138.00,197.21 L138.30,197.06 L138.60,196.90 L138.90,196.74 L139.20,196.58 L139.50,196.43 L139.80,196.27 L140.10,196.11 L140.40,195.95 L140.70,195.80 L141.01,195.64 L141.31,195.48 L141.61,195.33 L141.91,195.17 L142.21,195.01 L142.51,194.86 L142.81,194.70 L143.11,194.55 L143.41,194.39 L143.71,194.23 L144.01,194.08 L144.31,193.92 L144.61,193.77 L144.92,193.62 L145.22,193.46 L145.52,193.31 L145.82,193.15 L146.12,193.00 L146.42,192.85 L146.72,192.70 L147.02,192.54 L147.32,192.39 L147.62,192.24 L147.92,192.09 L148.22,191.94 L148.52,191.79 L148.83,191.64 L149.13,191.49 L149.43,191.34 L149.73,191.19 L150.03,191.04 L150.33,190.90 L150.63,190.75 L150.93,190.60 L151.23,190.45 L151.53,190.31 L151.83,190.16 L152.13,190.02 L152.43,189.87 L152.74,189.73 L153.04,189.58 L153.34,189.44 L153.64,189.30 L153.94,189.16 L154.24,189.01 L154.54,188.87 L154.84,188.73 L155.14,188.59 L155.44,188.45 L155.74,188.31 L156.04,188.17 L156.34,188.03 L156.64,187.89 L157.90,187.32 L159.16,186.76 L160.41,186.20 L161.67,185.66 L162.93,185.12 L164.18,184.59 L165.44,184.07 L166.70,183.55 L167.95,183.05 L169.21,182.55 L170.47,182.06 L171.72,181.58 L172.98,181.11 L174.24,180.64 L175.49,180.18 L176.75,179.73 L178.01,179.28 L179.26,178.85 L180.52,178.42 L181.78,177.99 L183.03,177.58 L184.29,177.16 L185.55,176.76 L186.80,176.36 L188.06,175.97 L189.32,175.58 L190.57,175.20 L191.83,174.83 L193.09,174.46 L194.34,174.09 L195.60,173.73 L196.86,173.38 L198.11,173.03 L199.37,172.69 L200.63,172.35 L201.88,172.01 L203.14,171.68 L204.40,171.36 L205.65,171.03 L206.91,170.72 L208.17,170.40 L209.42,170.09 L210.68,169.79 L211.94,169.49 L213.19,169.19 L214.45,168.90 L215.71,168.61 L216.96,168.32 L218.22,168.04 L219.48,167.76 L220.73,167.48 L221.99,167.21 L223.24,166.94 L224.50,166.67 L225.76,166.41 L227.01,166.15 L228.27,165.89 L229.53,165.64 L230.78,165.39 L232.04,165.14 L233.30,164.89 L234.55,164.65 L235.81,164.41 L237.07,164.17 L238.32,163.94 L239.58,163.71 L240.84,163.48 L242.09,163.25 L243.35,163.02 L244.61,162.80 L245.86,162.58 L247.12,162.36 L248.38,162.15 L249.63,161.93 L250.89,161.72 L252.15,161.51 L253.40,161.30 L254.66,161.10 L255.92,160.90 L257.17,160.69 L258.43,160.50 L259.69,160.30 L260.94,160.10 L262.20,159.91 L263.46,159.72 L264.71,159.53 L265.97,159.34 L267.23,159.16 L268.48,158.97 L269.74,158.79 L271.00,158.61 L272.25,158.43 L273.51,158.26 L274.77,158.08 L276.02,157.91 L277.28,157.74 L278.54,157.57 L279.79,157.40 L281.05,157.23 L282.31,157.06 L283.56,156.90 L284.82,156.74 L286.08,156.58 L287.33,156.42 L288.59,156.26 L289.84,156.10 L291.10,155.95 L292.36,155.80 L293.61,155.64 L294.87,155.49 L296.13,155.34 L297.38,155.20 L298.64,155.05 L299.90,154.90 L301.15,154.76 L302.41,154.62 L303.67,154.48 L304.92,154.34 L306.18,154.20 L307.44,154.06 L308.69,153.92 L309.95,153.79 L311.21,153.65 L312.46,153.52 L313.72,153.39 L314.98,153.26 L316.23,153.13 L317.49,153.00 L318.75,152.88 L320.00,152.75 L321.26,152.63 L322.52,152.50 L323.77,152.38 L325.03,152.26 L326.29,152.14 L327.54,152.02 L328.80,151.90 L330.06,151.79 L331.31,151.67 L332.57,151.55 L333.83,151.44 L335.08,151.33 L336.34,151.22 L337.60,151.10 L338.85,150.99 L340.11,150.88 L341.37,150.78 L342.62,150.67 L343.88,150.56 L345.14,150.46 L346.39,150.35 L347.65,150.25 L348.91,150.15 L350.16,150.05 L351.42,149.94 L352.68,149.84 L353.93,149.75 L355.19,149.65 L356.44,149.55 L357.70,149.45 L358.96,149.36 L360.21,149.26 L361.47,149.17 L362.73,149.08 L363.98,148.98 L365.24,148.89 L366.50,148.80 L367.75,148.71 L369.01,148.62 L370.27,148.53 L371.52,148.44 L372.78,148.36 L374.04,148.27 L375.29,148.19 L376.55,148.10 L377.81,148.02 L379.06,147.93 L380.32,147.85 L381.58,147.77 L382.83,147.69 L384.09,147.61 L385.35,147.53 L386.60,147.45 L387.86,147.37 L389.12,147.29 L390.37,147.21 L391.63,147.14 L392.89,147.06 L394.14,146.98 L395.40,146.91 L396.66,146.84 L397.91,146.76 L399.17,146.69 L400.43,146.62 L401.68,146.54 L402.94,146.47 L404.20,146.40 L405.45,146.33 L406.71,146.26" fill="none" stroke="#00ffff" stroke-width="1.60" stroke-linejoin="round"/>
<path d="M88.25,-4.51 L88.51,-0.34 L88.78,3.76 L89.04,7.77 L89.30,11.71 L89.57,15.57 L89.83,19.34 L90.10,23.04 L90.36,26.66 L90.62,30.20 L90.89,33.67 L91.15,37.05 L91.42,40.37 L91.68,43.60 L91.94,46.77 L92.21,49.86 L92.47,52.87 L92.74,55.82 L93.00,58.69 L93.26,61.50 L93.53,64.24 L93.79,66.91 L94.06,69.52 L94.32,72.06 L94.59,74.54 L94.85,76.96 L95.11,79.31 L95.38,81.61 L95.64,83.85 L95.91,86.03 L96.17,88.15 L96.43,90.22 L96.70,92.23 L96.96,94.19 L97.23,96.10 L97.49,97.96 L97.75,99.77 L98.02,101.53 L98.28,103.24 L98.55,104.90 L98.81,106.52 L99.07,108.10 L99.34,109.63 L99.60,111.12 L99.87,112.57 L100.13,113.98 L100.39,115.35 L100.66,116.68 L100.92,117.98 L101.19,119.23 L101.45,120.45 L101.72,121.64 L101.98,122.79 L102.24,123.91 L102.51,124.99 L102.77,126.05 L103.04,127.07 L103.30,128.06 L103.56,129.03 L103.83,129.96 L104.09,130.87 L104.36,131.75 L104.62,132.60 L104.88,133.43 L105.15,134.23 L105.41,135.01 L105.68,135.76 L105.94,136.49 L106.20,137.20 L106.47,137.88 L106.73,138.55 L107.00,139.19 L107.26,139.81 L107.53,140.41 L107.79,140.99 L108.05,141.56 L108.32,142.10 L108.58,142.63 L108.85,143.13 L109.11,143.63 L109.37,144.10 L109.64,144.56 L109.90,145.00 L110.17,145.43 L110.43,145.84 L110.69,146.24 L110.96,146.62 L111.22,146.99 L111.49,147.34 L111.75,147.69 L112.01,148.02 L112.28,148.33 L112.54,148.64 L112.81,148.93 L113.07,149.21 L113.34,149.48 L113.60,149.74 L113.86,149.99 L114.13,150.23 L114.39,150.46 L114.66,150.67 L114.92,150.88 L115.18,151.08 L115.45,151.27 L115.71,151.45 L115.98,151.63 L116.24,151.79 L116.50,151.95 L116.77,152.10 L117.03,152.24 L117.30,152.37 L117.56,152.49 L117.82,152.61 L118.09,152.73 L118.35,152.83 L118.62,152.93 L118.88,153.02 L119.14,153.11 L119.41,153.19 L119.67,153.26 L119.94,153.33 L120.20,153.39 L120.47,153.45 L120.73,153.50 L120.99,153.54 L121.26,153.59 L121.52,153.62 L121.79,153.65 L122.05,153.68 L122.31,153.71 L122.58,153.72 L122.84,153.74 L123.11,153.75 L123.37,153.75 L123.63,153.76 L123.90,153.75 L124.16,153.75 L124.43,153.74 L124.69,153.73 L124.95,153.71 L125.22,153.69 L125.48,153.67 L125.75,153.65 L126.01,153.62 L126.28,153.59 L126.54,153.55 L126.80,153.52 L127.07,153.48 L127.33,153.43 L127.60,153.39 L127.86,153.34 L128.12,153.29 L128.39,153.24 L128.65,153.19 L128.92,153.13 L129.18,153.07 L129.44,153.01 L129.71,152.95 L129.97,152.89 L130.24,152.82 L130.50,152.75 L130.76,152.68 L131.03,152.61 L131.29,152.54 L131.56,152.46 L131.82,152.38 L132.09,152.31 L132.35,152.23 L132.61,152.15 L132.88,152.06 L133.14,151.98 L133.41,151.90 L133.67,151.81 L133.93,151.72 L134.20,151.63 L134.46,151.54 L134.73,151.45 L134.99,151.36 L135.25,151.27 L135.52,151.17 L135.78,151.08 L136.05,150.98 L136.31,150.89 L136.57,150.79 L136.84,150.69 L137.10,150.59 L137.37,150.49 L137.63,150.39 L137.89,150.29 L138.16,150.19 L138.42,150.09 L138.69,149.98 L138.95,149.88 L139.22,149.77 L139.48,149.67 L139.74,149.56 L140.01,149.46 L140.27,149.35 L140.54,149.24 L140.80,149.14 L141.06,149.03 L141.33,148.92 L141.59,148.81 L141.86,148.70 L142.12,148.59 L142.38,148.48 L142.65,148.37 L142.91,148.26 L143.18,148.15 L143.44,148.04 L143.70,147.93 L143.97,147.82 L144.23,147.71 L144.50,147.59 L144.76,147.48 L145.03,147.37 L145.29,147.26 L145.55,147.14 L145.82,147.03 L146.08,146.92 L146.35,146.80 L146.61,146.69 L146.87,146.58 L147.14,146.46 L147.40,146.35 L147.67,146.24 L147.93,146.12 L148.19,146.01 L148.46,145.90 L148.72,145.78 L148.99,145.67 L149.25,145.56 L149.51,145.44 L149.78,145.33 L150.04,145.21 L150.31,145.10 L150.57,144.99 L150.84,144.87 L151.10,144.76 L151.36,144.65 L151.63,144.53 L151.89,144.42 L152.16,144.31 L152.42,144.19 L152.68,144.08 L152.95,143.97 L153.21,143.85 L153.48,143.74 L153.74,143.63 L154.00,143.52 L154.27,143.40 L154.53,143.29 L154.80,143.18 L155.06,143.07 L155.32,142.95 L155.59,142.84 L155.85,142.73 L156.12,142.62 L156.38,142.51 L156.64,142.40 L157.90,141.87 L159.16,141.35 L160.41,140.83 L161.67,140.31 L162.93,139.81 L164.18,139.30 L165.44,138.80 L166.70,138.31 L167.95,137.82 L169.21,137.34 L170.47,136.86 L171.72,136.39 L172.98,135.93 L174.24,135.47 L175.49,135.01 L176.75,134.57 L178.01,134.12 L179.26,133.69 L180.52,133.26 L181.78,132.83 L183.03,132.41 L184.29,132.00 L185.55,131.59 L186.80,131.18 L188.06,130.78 L189.32,130.39 L190.57,130.00 L191.83,129.62 L193.09,129.24 L194.34,128.86 L195.60,128.49 L196.86,128.13 L198.11,127.77 L199.37,127.41 L200.63,127.06 L201.88,126.71 L203.14,126.37 L204.40,126.03 L205.65,125.69 L206.91,125.36 L208.17,125.03 L209.42,124.71 L210.68,124.39 L211.94,124.08 L213.19,123.76 L214.45,123.45 L215.71,123.15 L216.96,122.85 L218.22,122.55 L219.48,122.25 L220.73,121.96 L221.99,121.67 L223.24,121.39 L224.50,121.11 L225.76,120.83 L227.01,120.55 L228.27,120.28 L229.53,120.01 L230.78,119.74 L232.04,119.47 L233.30,119.21 L234.55,118.95 L235.81,118.69 L237.07,118.44 L238.32,118.19 L239.58,117.94 L240.84,117.69 L242.09,117.45 L243.35,117.21 L244.61,116.97 L245.86,116.73 L247.12,116.49 L248.38,116.26 L249.63,116.03 L250.89,115.80 L252.15,115.58 L253.40,115.35 L254.66,115.13 L255.92,114.91 L257.17,114.69 L258.43,114.48 L259.69,114.26 L260.94,114.05 L262.20,113.84 L263.46,113.64 L264.71,113.43 L265.97,113.23 L267.23,113.02 L268.48,112.82 L269.74,112.63 L271.00,112.43 L272.25,112.24 L273.51,112.04 L274.77,111.85 L276.02,111.66 L277.28,111.48 L278.54,111.29 L279.79,111.11 L281.05,110.93 L282.31,110.75 L283.56,110.57 L284.82,110.39 L286.08,110.22 L287.33,110.04 L288.59,109.87 L289.84,109.70 L291.10,109.53 L292.36,109.36 L293.61,109.20 L294.87,109.04 L296.13,108.87 L297.38,108.71 L298.64,108.55 L299.90,108.40 L301.15,108.24 L302.41,108.09 L303.67,107.93 L304.92,107.78 L306.18,107.63 L307.44,107.49 L308.69,107.34 L309.95,107.20 L311.21,107.05 L312.46,106.91 L313.72,106.77 L314.98,106.63 L316.23,106.49 L317.49,106.36 L318.75,106.22 L320.00,106.09 L321.26,105.96 L322.52,105.83 L323.77,105.70 L325.03,105.57 L326.29,105.45 L327.54,105.32 L328.80,105.20 L330.06,105.08 L331.31,104.96 L332.57,104.84 L333.83,104.73 L335.08,104.61 L336.34,104.50 L337.60,104.38 L338.85,104.27 L340.11,104.16 L341.37,104.06 L342.62,103.95 L343.88,103.84 L345.14,103.74 L346.39,103.64 L347.65,103.54 L348.91,103.44 L350.16,103.34 L351.42,103.24 L352.68,103.15 L353.93,103.05 L355.19,102.96 L356.44,102.87 L357.70,102.78 L358.96,102.69 L360.21,102.60 L361.47,102.52 L362.73,102.43 L363.98,102.35 L365.24,102.27 L366.50,102.19 L367.75,102.11 L369.01,102.03 L370.27,101.95 L371.52,101.88 L372.78,101.80 L374.04,101.73 L375.29,101.66 L376.55,101.59 L377.81,101.52 L379.06,101.46 L380.32,101.39 L381.58,101.33 L382.83,101.26 L384.09,101.20 L385.35,101.14 L386.60,101.08 L387.86,101.03 L389.12,100.97 L390.37,100.92 L391.63,100.86 L392.89,100.81 L394.14,100.76 L395.40,100.71 L396.66,100.66 L397.91,100.61 L399.17,100.57 L400.43,100.52 L401.68,100.48 L402.94,100.44 L404.20,100.40 L405.45,100.36 L406.71,100.32" fill="none" stroke="#00ff00" stroke-width="1.60" stroke-linejoin="round"/>
</g>
<rect x="53.50" y="0.15" width="359.20" height="223.05" fill="none" stroke="#848484" stroke-width="1"/>
<g stroke="#808080" stroke-width="0.9"><line x1="60.67" y1="223.20" x2="60.67" y2="220.50"/><line x1="60.67" y1="0.15" x2="60.67" y2="2.85"/><line x1="79.84" y1="223.20" x2="79.84" y2="220.50"/><line x1="79.84" y1="0.15" x2="79.84" y2="2.85"/><line x1="99.00" y1="223.20" x2="99.00" y2="219.20"/><line x1="99.00" y1="0.15" x2="99.00" y2="4.15"/><line x1="118.16" y1="223.20" x2="118.16" y2="220.50"/><line x1="118.16" y1="0.15" x2="118.16" y2="2.85"/><line x1="137.33" y1="223.20" x2="137.33" y2="220.50"/><line x1="137.33" y1="0.15" x2="137.33" y2="2.85"/><line x1="156.50" y1="223.20" x2="156.50" y2="220.50"/><line x1="156.50" y1="0.15" x2="156.50" y2="2.85"/><line x1="175.66" y1="223.20" x2="175.66" y2="219.20"/><line x1="175.66" y1="0.15" x2="175.66" y2="4.15"/><line x1="194.82" y1="223.20" x2="194.82" y2="220.50"/><line x1="194.82" y1="0.15" x2="194.82" y2="2.85"/><line x1="213.99" y1="223.20" x2="213.99" y2="220.50"/><line x1="213.99" y1="0.15" x2="213.99" y2="2.85"/><line x1="233.16" y1="223.20" x2="233.16" y2="220.50"/><line x1="233.16" y1="0.15" x2="233.16" y2="2.85"/><line x1="252.32" y1="223.20" x2="252.32" y2="219.20"/><line x1="252.32" y1="0.15" x2="252.32" y2="4.15"/><line x1="271.49" y1="223.20" x2="271.49" y2="220.50"/><line x1="271.49" y1="0.15" x2="271.49" y2="2.85"/><line x1="290.65" y1="223.20" x2="290.65" y2="220.50"/><line x1="290.65" y1="0.15" x2="290.65" y2="2.85"/><line x1="309.81" y1="223.20" x2="309.81" y2="220.50"/><line x1="309.81" y1="0.15" x2="309.81" y2="2.85"/><line x1="328.98" y1="223.20" x2="328.98" y2="219.20"/><line x1="328.98" y1="0.15" x2="328.98" y2="4.15"/><line x1="348.14" y1="223.20" x2="348.14" y2="220.50"/><line x1="348.14" y1="0.15" x2="348.14" y2="2.85"/><line x1="367.31" y1="223.20" x2="367.31" y2="220.50"/><line x1="367.31" y1="0.15" x2="367.31" y2="2.85"/><line x1="386.47" y1="223.20" x2="386.47" y2="220.50"/><line x1="386.47" y1="0.15" x2="386.47" y2="2.85"/><line x1="405.64" y1="223.20" x2="405.64" y2="219.20"/><line x1="405.64" y1="0.15" x2="405.64" y2="4.15"/><line x1="53.50" y1="215.10" x2="56.20" y2="215.10"/><line x1="412.70" y1="215.10" x2="410.00" y2="215.10"/><line x1="53.50" y1="205.70" x2="56.20" y2="205.70"/><line x1="412.70" y1="205.70" x2="410.00" y2="205.70"/><line x1="53.50" y1="196.30" x2="56.20" y2="196.30"/><line x1="412.70" y1="196.30" x2="410.00" y2="196.30"/><line x1="53.50" y1="186.90" x2="56.20" y2="186.90"/><line x1="412.70" y1="186.90" x2="410.00" y2="186.90"/><line x1="53.50" y1="177.50" x2="57.50" y2="177.50"/><line x1="412.70" y1="177.50" x2="408.70" y2="177.50"/><line x1="53.50" y1="168.10" x2="56.20" y2="168.10"/><line x1="412.70" y1="168.10" x2="410.00" y2="168.10"/><line x1="53.50" y1="158.70" x2="56.20" y2="158.70"/><line x1="412.70" y1="158.70" x2="410.00" y2="158.70"/><line x1="53.50" y1="149.30" x2="56.20" y2="149.30"/><line x1="412.70" y1="149.30" x2="410.00" y2="149.30"/><line x1="53.50" y1="139.90" x2="56.20" y2="139.90"/><line x1="412.70" y1="139.90" x2="410.00" y2="139.90"/><line x1="53.50" y1="130.50" x2="57.50" y2="130.50"/><line x1="412.70" y1="130.50" x2="408.70" y2="130.50"/><line x1="53.50" y1="121.10" x2="56.20" y2="121.10"/><line x1="412.70" y1="121.10" x2="410.00" y2="121.10"/><line x1="53.50" y1="111.70" x2="56.20" y2="111.70"/><line x1="412.70" y1="111.70" x2="410.00" y2="111.70"/><line x1="53.50" y1="102.30" x2="56.20" y2="102.30"/><line x1="412.70" y1="102.30" x2="410.00" y2="102.30"/><line x1="53.50" y1="92.90" x2="56.20" y2="92.90"/><line x1="412.70" y1="92.90" x2="410.00" y2="92.90"/><line x1="53.50" y1="83.50" x2="57.50" y2="83.50"/><line x1="412.70" y1="83.50" x2="408.70" y2="83.50"/><line x1="53.50" y1="74.10" x2="56.20" y2="74.10"/><line x1="412.70" y1="74.10" x2="410.00" y2="74.10"/><line x1="53.50" y1="64.70" x2="56.20" y2="64.70"/><line x1="412.70" y1="64.70" x2="410.00" y2="64.70"/><line x1="53.50" y1="55.30" x2="56.20" y2="55.30"/><line x1="412.70" y1="55.30" x2="410.00" y2="55.30"/><line x1="53.50" y1="45.90" x2="56.20" y2="45.90"/><line x1="412.70" y1="45.90" x2="410.00" y2="45.90"/><line x1="53.50" y1="36.50" x2="57.50" y2="36.50"/><line x1="412.70" y1="36.50" x2="408.70" y2="36.50"/><line x1="53.50" y1="27.10" x2="56.20" y2="27.10"/><line x1="412.70" y1="27.10" x2="410.00" y2="27.10"/><line x1="53.50" y1="17.70" x2="56.20" y2="17.70"/><line x1="412.70" y1="17.70" x2="410.00" y2="17.70"/><line x1="53.50" y1="8.30" x2="56.20" y2="8.30"/><line x1="412.70" y1="8.30" x2="410.00" y2="8.30"/></g>
<text transform="translate(99.40,236.2) scale(1.14,1)" class="tk" text-anchor="middle">2</text>
<text transform="translate(176.06,236.2) scale(1.14,1)" class="tk" text-anchor="middle">4</text>
<text transform="translate(252.72,236.2) scale(1.14,1)" class="tk" text-anchor="middle">6</text>
<text transform="translate(329.38,236.2) scale(1.14,1)" class="tk" text-anchor="middle">8</text>
<text transform="translate(401.8,236.2) scale(1.14,1)" class="tk">10</text>
<text transform="translate(50.6,179.00) scale(1.14,1)" class="tk" text-anchor="end">0.02</text>
<text transform="translate(50.6,132.00) scale(1.14,1)" class="tk" text-anchor="end">0.03</text>
<text transform="translate(50.6,85.00) scale(1.14,1)" class="tk" text-anchor="end">0.04</text>
<text transform="translate(50.6,38.00) scale(1.14,1)" class="tk" text-anchor="end">0.05</text>
<text transform="translate(233.2,262.3) scale(0.94,1)" class="xl" text-anchor="middle">RT</text>
<text transform="translate(11.5,128.0) rotate(-90) scale(1.08,1)" class="yl"><tspan>W</tspan><tspan class="sup" dy="-5.3">2</tspan><tspan dy="5.3">T</tspan><tspan class="sup" dy="-5.3">2</tspan></text>
</svg>
</body></html>
